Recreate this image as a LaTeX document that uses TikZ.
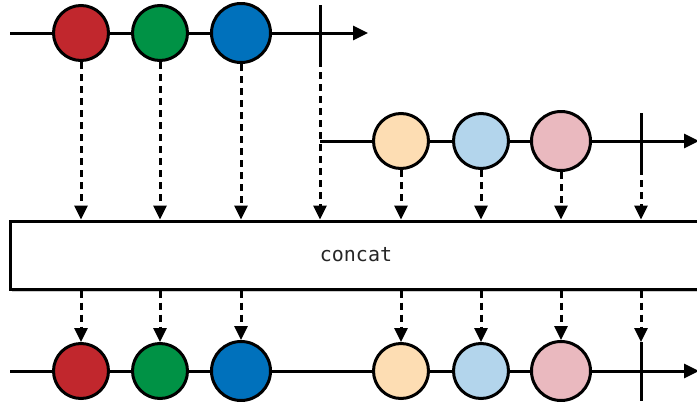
\documentclass[tikz,border=0pt]{standalone}
\usepackage{fontspec}
\newfontfamily\monofont{DejaVu Sans Mono}
\usetikzlibrary{arrows.meta,shadows}
\definecolor{cred}{HTML}{C1272D}
\definecolor{cgreen}{HTML}{009245}
\definecolor{cblue}{HTML}{0071BC}
\definecolor{corange}{HTML}{FDDDB3}
\definecolor{clblue}{HTML}{B3D5EC}
\definecolor{cpink}{HTML}{EAB9BF}
\tikzset{
  marble/.style={circle,draw=black,line width=3pt,minimum size=55pt,inner sep=0pt},
  bigmarble/.style={marble,minimum size=59pt},
  timeline/.style={line width=3pt,-{Triangle[length=15pt,width=14pt]}},
  tickline/.style={line width=3pt},
  flow/.style={line width=3pt,dash pattern=on 7pt off 5pt,-{Triangle[length=14pt,width=13pt]}},
  opbox/.style={draw=black,line width=3pt,fill=white,rectangle,minimum width=692pt,minimum height=68pt,inner sep=0pt,drop shadow={shadow xshift=2pt,shadow yshift=-3pt,opacity=0.4}}
}
\begin{document}
\begin{tikzpicture}[x=1pt,y=-1pt]
\useasboundingbox (0,0) rectangle (697,402);
% top source line
\coordinate (s1) at (10,33);
\coordinate (e1) at (368,33);
\draw[timeline] (s1) -- (e1);
\node[marble,fill=cred] (a1) at (81,33) {};
\node[marble,fill=cgreen] (a2) at (160,33) {};
\node[bigmarble,fill=cblue] (a3) at (241,33) {};
\coordinate (t1a) at (320,5);
\coordinate (t1b) at (320,60);
\draw[tickline] (t1a) -- (t1b);
% second source line
\coordinate (s2) at (320,141);
\coordinate (e2) at (699,141);
\draw[timeline] (s2) -- (e2);
\node[marble,fill=corange] (b1) at (401,141) {};
\node[marble,fill=clblue] (b2) at (481,141) {};
\node[bigmarble,fill=cpink] (b3) at (561,141) {};
\coordinate (t2a) at (641,113);
\coordinate (t2b) at (641,168);
\draw[tickline] (t2a) -- (t2b);
% operator box
\node[opbox] (op) at (356,255) {};
\node[font=\monofont\fontsize{20}{22}\selectfont,text=black!85] (lbl) at (356,255) {concat};
% arrows into box
\foreach \n in {a1,a2,a3,b1,b2,b3}{
  \draw[flow] (\n.south) -- (\n.south |- op.north);
}
\draw[flow] (t1b) -- (t1b |- op.north);
\draw[flow] (t2b) -- (t2b |- op.north);
% result line
\coordinate (s3) at (10,371);
\coordinate (e3) at (699,371);
\draw[timeline] (s3) -- (e3);
\node[marble,fill=cred] (r1) at (81,371) {};
\node[marble,fill=cgreen] (r2) at (160,371) {};
\node[bigmarble,fill=cblue] (r3) at (241,371) {};
\node[marble,fill=corange] (r4) at (401,371) {};
\node[marble,fill=clblue] (r5) at (481,371) {};
\node[bigmarble,fill=cpink] (r6) at (561,371) {};
\coordinate (t3a) at (641,342);
\coordinate (t3b) at (641,401);
\draw[tickline] (t3a) -- (t3b);
\foreach \n in {r1,r2,r3,r4,r5,r6}{
  \draw[flow] (\n |- op.south) -- (\n.north);
}
\draw[flow] (t3a |- op.south) -- (t3a);
\end{tikzpicture}
\end{document}
